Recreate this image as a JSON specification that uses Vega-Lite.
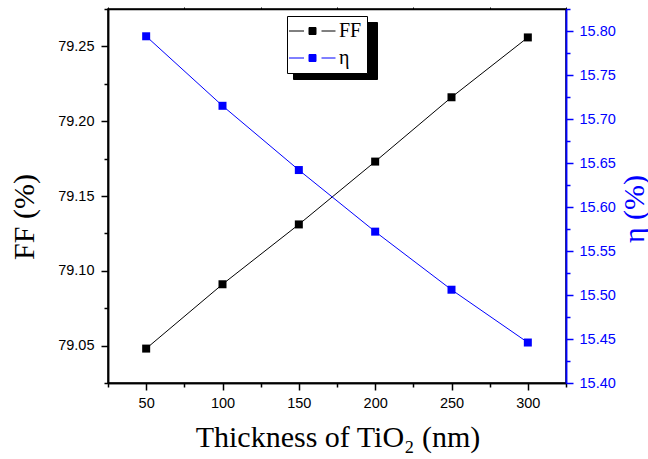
{
  "$schema": "https://vega.github.io/schema/vega-lite/v6.json",
  "width": 458,
  "height": 374,
  "autosize": {"type": "none"},
  "padding": {"left": 108, "top": 9, "right": 82, "bottom": 76},
  "background": "white",
  "config": {
    "view": {"stroke": "black", "strokeWidth": 1.5},
    "axis": {
      "grid": false,
      "labelFont": "Liberation Sans",
      "labelFontSize": 14.5,
      "titleFont": "Liberation Serif",
      "titleFontSize": 30,
      "titleFontWeight": "normal",
      "domainWidth": 1.5,
      "tickWidth": 1.5
    },
    "legend": {
      "symbolType": "M-2.6,0H0.4M3.9,0H6.7M1.4,-0.7H2.8V0.7H1.4Z",
      "symbolSize": 100,
      "symbolStrokeWidth": 1,
      "labelFont": "Liberation Serif",
      "labelFontSize": 20,
      "padding": 5,
      "rowPadding": 7,
      "labelColor": "black",
      "strokeWidth": 1
    }
  },
  "datasets": {
    "ff": [
      {"thickness": 50, "series": "FF", "value": 79.048},
      {"thickness": 100, "series": "FF", "value": 79.091},
      {"thickness": 150, "series": "FF", "value": 79.131},
      {"thickness": 200, "series": "FF", "value": 79.173},
      {"thickness": 250, "series": "FF", "value": 79.216},
      {"thickness": 300, "series": "FF", "value": 79.256}
    ],
    "eta": [
      {"thickness": 50, "series": "η", "value": 15.794},
      {"thickness": 100, "series": "η", "value": 15.715},
      {"thickness": 150, "series": "η", "value": 15.642},
      {"thickness": 200, "series": "η", "value": 15.572},
      {"thickness": 250, "series": "η", "value": 15.506},
      {"thickness": 300, "series": "η", "value": 15.446}
    ]
  },
  "layer": [
    {
      "data": {"name": "ff"},
      "layer": [
        {
          "mark": {"type": "line", "strokeWidth": 1},
          "encoding": {
            "x": {
              "field": "thickness",
              "type": "quantitative",
              "scale": {"domain": [25, 325], "nice": false, "zero": false},
              "axis": {
                "orient": "bottom",
                "values": [50, 100, 150, 200, 250, 300],
                "tickSize": 7,
                "labelPadding": 6,
                "labelColor": "black",
                "domainColor": "black",
                "tickColor": "black",
                "title": "Thickness of TiO₂ (nm)",
                "titleColor": "black",
                "titleX": 229.5,
                "titleY": 63,
                "titleAlign": "center",
                "titleBaseline": "alphabetic"
              }
            },
            "y": {
              "field": "value",
              "type": "quantitative",
              "scale": {"domain": [79.025, 79.275], "nice": false, "zero": false},
              "axis": {
                "orient": "left",
                "values": [79.05, 79.1, 79.15, 79.2, 79.25],
                "format": ".2f",
                "tickSize": 7,
                "labelPadding": 7,
                "labelColor": "black",
                "domainColor": "black",
                "tickColor": "black",
                "title": "FF (%)",
                "titleColor": "black",
                "titleAngle": 270,
                "titleX": -75,
                "titleY": 207.5,
                "titleAlign": "center",
                "titleBaseline": "alphabetic"
              }
            },
            "color": {
              "field": "series",
              "type": "nominal",
              "scale": {"domain": ["FF", "η"], "range": ["#000000", "#0000ff"]},
              "legend": {
                "orient": "none",
                "legendX": 179,
                "legendY": 7,
                "title": null,
                "zindex": 1,
                "labelOffset": 27,
                "labelExpr": "datum.label + ' '",
                "symbolType": "M-2.6,0H0.4M3.9,0H6.7M1.4,-0.7H2.8V0.7H1.4Z",
                "fillColor": "white",
                "strokeColor": "black",
                "encode": {
                  "symbols": {
                    "update": {
                      "stroke": {"scale": "color", "field": "value"},
                      "fill": {"scale": "color", "field": "value"},
                      "strokeWidth": {"value": 1},
                      "opacity": {"value": 1}
                    }
                  }
                }
              }
            },
            "opacity": {
              "field": "series",
              "type": "ordinal",
              "scale": {"domain": ["η", "FF"], "range": [1, 1]},
              "legend": {
                "orient": "none",
                "legendX": 185,
                "legendY": 13,
                "title": null,
                "zindex": 0,
                "labelOffset": 54,
                "labelExpr": "''",
                "symbolType": "M-2.6,0H0.4M3.9,0H6.7M1.4,-0.7H2.8V0.7H1.4Z",
                "fillColor": "black",
                "strokeColor": "black",
                "encode": {
                  "symbols": {"update": {"opacity": {"value": 0}}}
                }
              }
            }
          }
        },
        {
          "mark": {"type": "point", "shape": "square", "filled": true, "size": 64, "color": "#000000", "opacity": 1},
          "encoding": {
            "x": {"field": "thickness", "type": "quantitative", "scale": {"domain": [25, 325], "nice": false, "zero": false}},
            "y": {"field": "value", "type": "quantitative", "scale": {"domain": [79.025, 79.275], "nice": false, "zero": false}}
          }
        }
      ]
    },
    {
      "data": {"name": "ff"},
      "mark": {"type": "point", "opacity": 0},
      "encoding": {
        "x": {
          "field": "thickness",
          "type": "quantitative",
          "scale": {"domain": [25, 325], "nice": false, "zero": false},
          "axis": {
            "orient": "bottom",
            "values": [25, 75, 125, 175, 225, 275, 325],
            "labels": false,
            "title": null,
            "tickSize": 4,
            "domainColor": "black",
            "tickColor": "black"
          }
        },
        "y": {
          "field": "value",
          "type": "quantitative",
          "scale": {"domain": [79.025, 79.275], "nice": false, "zero": false},
          "axis": {
            "orient": "left",
            "values": [79.025, 79.075, 79.125, 79.175, 79.225, 79.275],
            "labels": false,
            "title": null,
            "tickSize": 4,
            "domainColor": "black",
            "tickColor": "black"
          }
        }
      }
    },
    {
      "data": {"name": "eta"},
      "layer": [
        {
          "mark": {"type": "line", "strokeWidth": 1},
          "encoding": {
            "x": {
              "field": "thickness",
              "type": "quantitative",
              "scale": {"domain": [25, 325], "nice": false, "zero": false},
              "axis": {
                "orient": "top",
                "values": [25, 50, 75, 100, 125, 150, 175, 200, 225, 250, 275, 300, 325],
                "labels": false,
                "title": null,
                "tickSize": 2,
                "tickWidth": 1,
                "domainColor": "black",
                "tickColor": "black"
              }
            },
            "y": {
              "field": "value",
              "type": "quantitative",
              "scale": {"domain": [15.4, 15.825], "nice": false, "zero": false},
              "axis": {
                "orient": "right",
                "values": [15.4, 15.45, 15.5, 15.55, 15.6, 15.65, 15.7, 15.75, 15.8],
                "format": ".2f",
                "tickSize": 7,
                "labelPadding": 6,
                "labelColor": "#0000ff",
                "domainColor": "#0000ff",
                "tickColor": "#0000ff",
                "title": "η (%)",
                "titleColor": "#0000ff",
                "titleAngle": 270,
                "titleX": 77,
                "titleY": 199.5,
                "titleAlign": "center",
                "titleBaseline": "alphabetic"
              }
            },
            "color": {"field": "series", "type": "nominal"},
            "opacity": {"field": "series", "type": "ordinal"}
          }
        },
        {
          "mark": {"type": "point", "shape": "square", "filled": true, "size": 64, "color": "#0000ff", "opacity": 1},
          "encoding": {
            "x": {"field": "thickness", "type": "quantitative", "scale": {"domain": [25, 325], "nice": false, "zero": false}},
            "y": {"field": "value", "type": "quantitative", "scale": {"domain": [15.4, 15.825], "nice": false, "zero": false}}
          }
        }
      ]
    },
    {
      "data": {"name": "eta"},
      "mark": {"type": "point", "opacity": 0},
      "encoding": {
        "x": {
          "field": "thickness",
          "type": "quantitative",
          "scale": {"domain": [25, 325], "nice": false, "zero": false},
          "axis": null
        },
        "y": {
          "field": "value",
          "type": "quantitative",
          "scale": {"domain": [15.4, 15.825], "nice": false, "zero": false},
          "axis": {
            "orient": "right",
            "values": [15.425, 15.475, 15.525, 15.575, 15.625, 15.675, 15.725, 15.775, 15.825],
            "labels": false,
            "title": null,
            "tickSize": 4,
            "domainColor": "#0000ff",
            "tickColor": "#0000ff"
          }
        }
      }
    }
  ],
  "resolve": {"scale": {"y": "independent"}, "axis": {"x": "independent"}}
}
